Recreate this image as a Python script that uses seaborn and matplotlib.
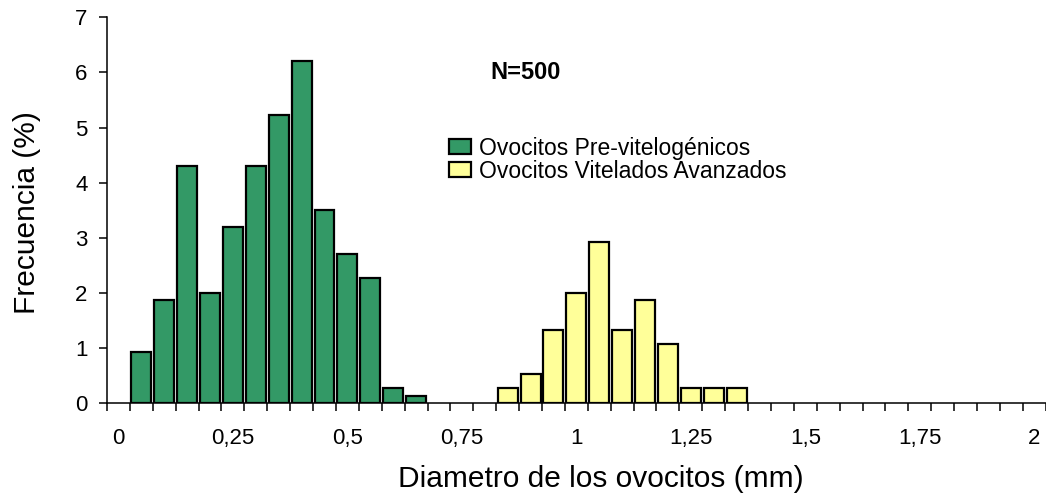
import numpy as np
import pandas as pd
import seaborn as sns
import matplotlib.pyplot as plt

# bin centres (mm) and frequencies (%)
pre_diam = [0.05, 0.10, 0.15, 0.20, 0.25, 0.30, 0.35, 0.40, 0.45, 0.50, 0.55, 0.60, 0.65]
pre_freq = [0.93, 1.87, 4.30, 2.00, 3.20, 4.30, 5.23, 6.20, 3.50, 2.70, 2.27, 0.27, 0.13]

vit_diam = [0.85, 0.90, 0.95, 1.00, 1.05, 1.10, 1.15, 1.20, 1.25, 1.30, 1.35]
vit_freq = [0.27, 0.53, 1.33, 2.00, 2.93, 1.33, 1.87, 1.07, 0.27, 0.27, 0.27]

x_ticks = [0, 0.25, 0.5, 0.75, 1, 1.25, 1.5, 1.75, 2]
x_labels = ["0", "0,25", "0,5", "0,75", "1", "1,25", "1,5", "1,75", "2"]

sns.set_style("ticks", {"axes.edgecolor": "black", "text.color": "black",
                        "xtick.color": "black", "ytick.color": "black",
                        "axes.labelcolor": "black"})
plt.rcParams["font.family"] = ["Liberation Sans", "DejaVu Sans"]

fig = plt.figure(figsize=(10.46, 4.97), dpi=100)
ax = fig.add_axes([0.1023, 0.1885, 0.8974, 0.7767])

pre = pd.DataFrame({"diam": pre_diam, "freq": pre_freq})
vit = pd.DataFrame({"diam": vit_diam, "freq": vit_freq})

sns.barplot(data=pre, x="diam", y="freq", native_scale=True, width=0.87,
            color="#339966", saturation=1, edgecolor="black", linewidth=1.6,
            label="Ovocitos Pre-vitelogénicos", ax=ax)
sns.barplot(data=vit, x="diam", y="freq", native_scale=True, width=0.87,
            color="#FFFF99", saturation=1, edgecolor="black", linewidth=1.6,
            label="Ovocitos Vitelados Avanzados", ax=ax)

ax.set_xlim(-0.025, 2.025)
ax.set_ylim(0, 7)
ax.set_yticks(range(0, 8))
ax.set_xticks(x_ticks)
ax.set_xticklabels(x_labels)
ax.set_xticks(np.arange(-0.025, 2.03, 0.05), minor=True)

ax.tick_params(axis="x", which="major", length=0, pad=18, labelsize=16)
ax.tick_params(axis="x", which="minor", length=6, width=1.1, direction="out")
ax.tick_params(axis="y", length=6, width=1.1, pad=8, labelsize=16)

sns.despine(ax=ax)
for s in ["left", "bottom"]:
    ax.spines[s].set_linewidth(1.1)

ax.set_xlabel("Diametro de los ovocitos (mm)", fontsize=21.5, va="center")
ax.set_ylabel("Frecuencia (%)", fontsize=21.5, va="center")
ax.xaxis.set_label_coords(0.526, -0.196)
ax.yaxis.set_label_coords(-0.0854, 0.493)

ax.text(0.89, 6.0, "N=500", fontsize=17, fontweight="bold", ha="center", va="center")

ax.legend(loc="upper left", bbox_to_anchor=(0.429, 0.725), bbox_transform=fig.transFigure,
          frameon=False, fontsize=16.5, handlelength=0.96, handleheight=0.66,
          handletextpad=0.38, labelspacing=0.0, borderpad=0, borderaxespad=0)

fig.savefig("out.png", dpi=100)
